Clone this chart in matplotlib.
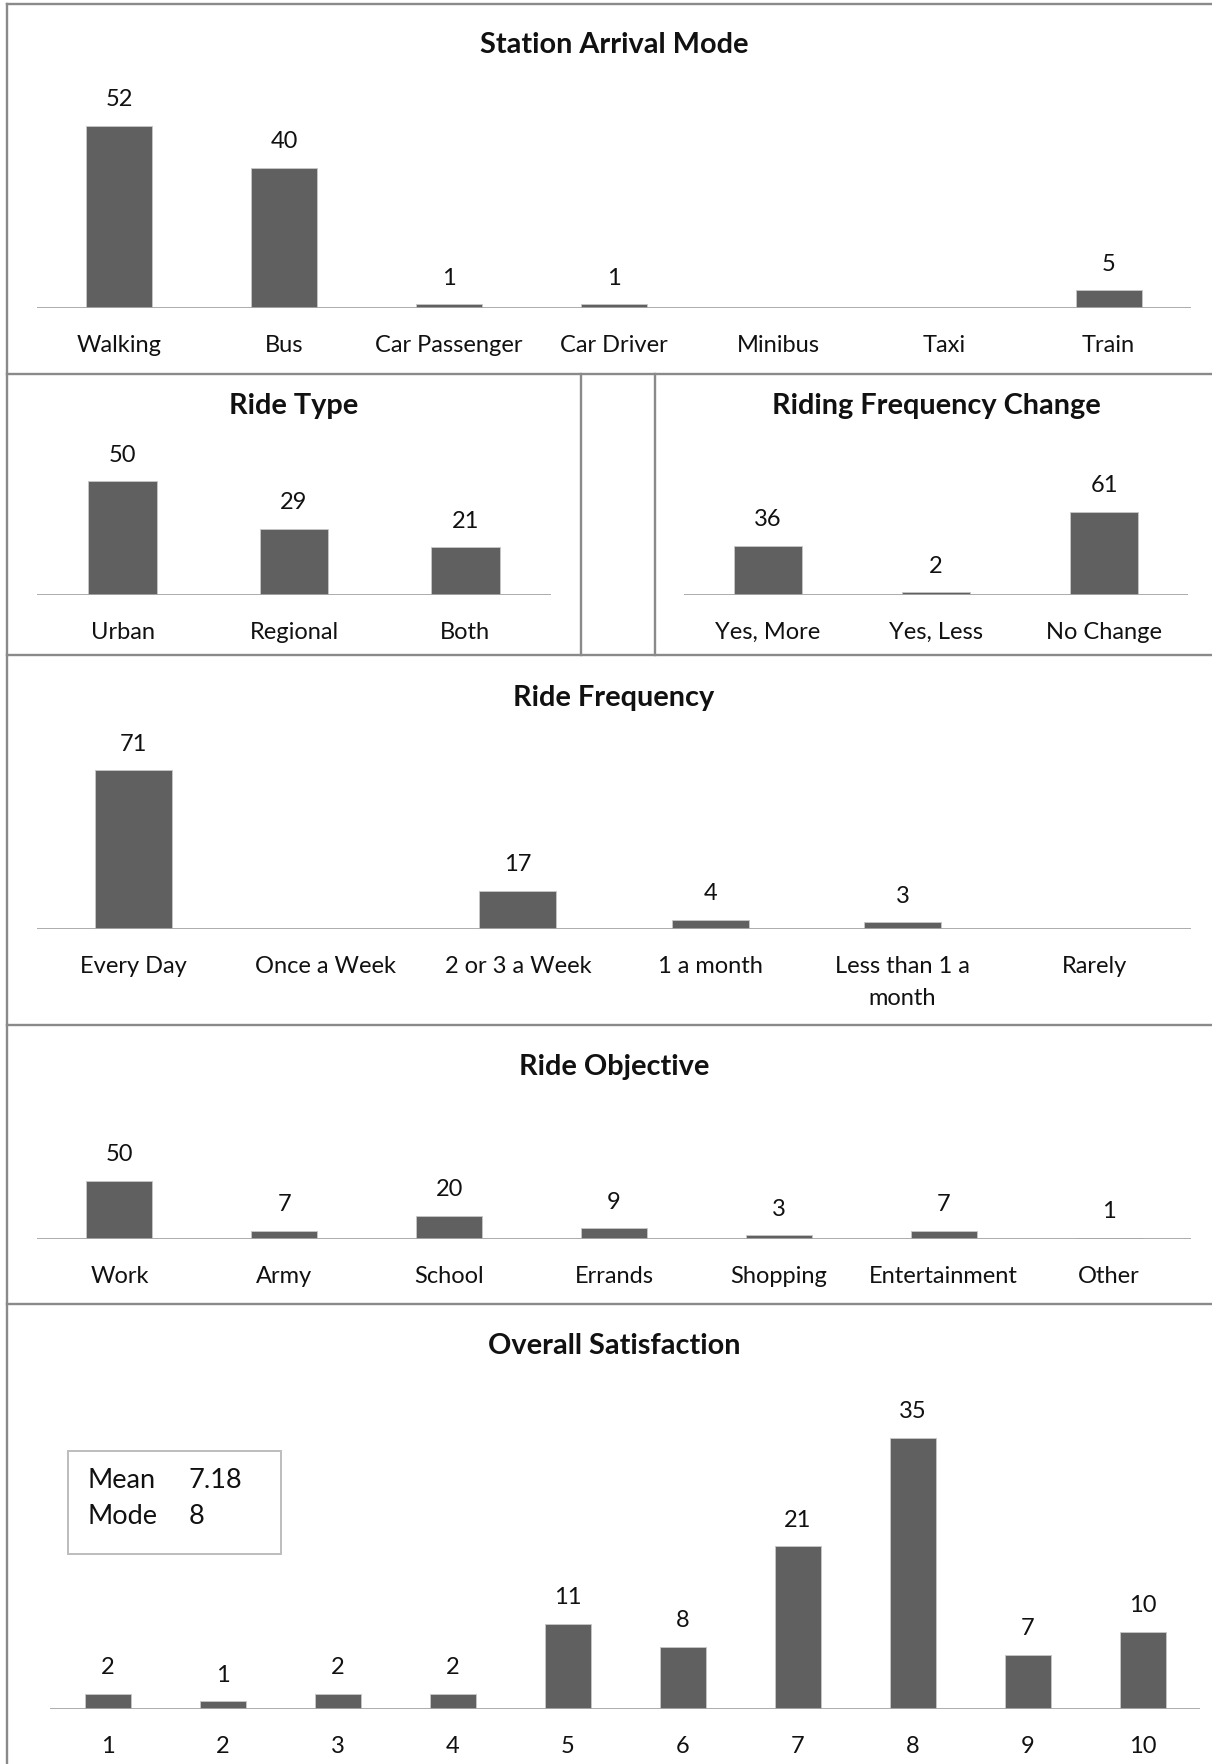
import matplotlib.pyplot as plt
import numpy as np

plt.rcParams['font.family'] = ['Lato', 'DejaVu Sans']

W, H = 1212, 1765

arrival_labels = ['Walking', 'Bus', 'Car Passenger', 'Car Driver', 'Minibus', 'Taxi', 'Train']
arrival_counts = [52, 40, 1, 1, 0, 0, 5]

ride_type_labels = ['Urban', 'Regional', 'Both']
ride_type_counts = [50, 29, 21]

freq_change_labels = ['Yes, More', 'Yes, Less', 'No Change']
freq_change_counts = [36, 2, 61]

ride_freq_labels = ['Every Day', 'Once a Week', '2 or 3 a Week', '1 a month', 'Less than 1 a\nmonth', 'Rarely']
ride_freq_counts = [71, 0, 17, 4, 3, 0]

objective_labels = ['Work', 'Army', 'School', 'Errands', 'Shopping', 'Entertainment', 'Other']
objective_counts = [50, 7, 20, 9, 3, 7, 1]

satisfaction_labels = ['1', '2', '3', '4', '5', '6', '7', '8', '9', '10']
satisfaction_counts = [2, 1, 2, 2, 11, 8, 21, 35, 7, 10]
sat_mean = 7.18
sat_mode = 8

BAR = '#606060'
FRAME = '#8a8a8a'
AXLINE = '#a6a6a6'
TXT = '#111111'
FS = 17
TFS = 20.8

fig = plt.figure(figsize=(W / 100, H / 100), dpi=100)

# frame lines drawn in pixel space
bg = fig.add_axes([0, 0, 1, 1])
bg.set_xlim(0, W)
bg.set_ylim(H, 0)
bg.axis('off')
bg.plot([7, W], [5, 5], color=FRAME, lw=1.7)
bg.plot([7, 7], [5, H], color=FRAME, lw=1.7)
for y in [375, 656, 1026, 1305]:
    bg.plot([7, W], [y, y], color=FRAME, lw=1.7)
for x in [581, 655]:
    bg.plot([x, x], [375, 656], color=FRAME, lw=1.7)


def panel(labels, counts, title, x0, x1, base, ppu, title_y, top, title_x=None):
    ax = fig.add_axes([x0 / W, 1 - base / H, (x1 - x0) / W, (base - top) / H])
    n = len(labels)
    ax.bar(np.arange(n), counts, width=0.4, color=BAR, edgecolor='#c8c8c8', linewidth=0.6)
    ax.set_xlim(-0.5, n - 0.5)
    ax.set_ylim(0, (base - top) / ppu)
    ax.axis('off')
    ax.axhline(0, color=AXLINE, lw=1.3)
    for i, (lab, c) in enumerate(zip(labels, counts)):
        if c > 0:
            ax.annotate(str(c), xy=(i, c), xytext=(0, 19.5), textcoords='offset points',
                        ha='center', va='center', fontsize=FS, color=TXT)
        ax.annotate(lab, xy=(i, 0), xycoords=('data', 'axes fraction'), xytext=(0, -18.5),
                    textcoords='offset points', ha='center', va='top', fontsize=FS,
                    color=TXT, linespacing=1.65)
    xc = (x0 + x1) / 2 if title_x is None else title_x
    fig.text(xc / W, 1 - title_y / H, title, ha='center', va='center',
             fontsize=TFS, fontweight='bold', color=TXT)
    return ax


panel(arrival_labels, arrival_counts, 'Station Arrival Mode', 37, 1191, 309, 3.506, 45, 90)
panel(ride_type_labels, ride_type_counts, 'Ride Type', 37, 551, 596, 2.273, 406, 460, title_x=294)
panel(freq_change_labels, freq_change_counts, 'Riding Frequency Change', 684, 1188, 596, 1.365, 406, 460, title_x=936)
panel(ride_freq_labels, ride_freq_counts, 'Ride Frequency', 37, 1191, 930, 2.235, 698, 740, title_x=614)
panel(objective_labels, objective_counts, 'Ride Objective', 37, 1191, 1240, 1.17, 1067, 1100, title_x=614)
panel(satisfaction_labels, satisfaction_counts, 'Overall Satisfaction', 50, 1200, 1710, 7.75, 1346, 1400, title_x=614)

# summary box for satisfaction
bg.add_patch(plt.Rectangle((67.5, 1452), 213.5, 103, fill=False, edgecolor='#bdbdbd', lw=1.4))
bg.text(88, 1480, 'Mean', fontsize=19.5, va='center', ha='left', color=TXT)
bg.text(189, 1480, f'{sat_mean:.2f}', fontsize=19.5, va='center', ha='left', color=TXT)
bg.text(88, 1516, 'Mode', fontsize=19.5, va='center', ha='left', color=TXT)
bg.text(189, 1516, str(sat_mode), fontsize=19.5, va='center', ha='left', color=TXT)

fig.savefig('out.png', dpi=100)
